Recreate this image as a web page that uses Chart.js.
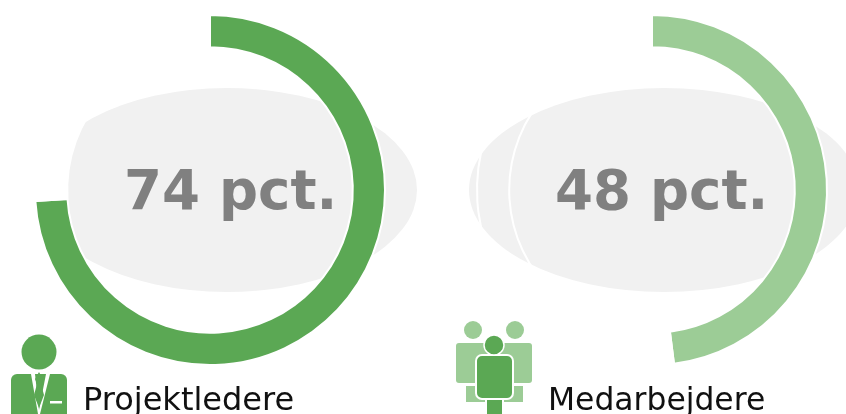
<!DOCTYPE html>
<html>
<head>
<meta charset="utf-8">
<title>Projektledere og medarbejdere</title>
<script src="https://cdn.jsdelivr.net/npm/chart.js@4/dist/chart.umd.min.js"></script>
<style>
  html, body { margin: 0; padding: 0; background: #fff; }
  #page { position: relative; width: 846px; height: 414px; overflow: hidden; font-family: "DejaVu Sans", sans-serif; }
  .blob { position: absolute; background: #f1f1f1; border-radius: 50%; }
  .ring { position: absolute; top: 0; }
  .pct { position: absolute; top: 155px; font-size: 54.6px; line-height: 70px; font-weight: bold; color: #808080; white-space: nowrap; }
  .name { position: absolute; top: 379px; line-height: 40px; color: #111; white-space: nowrap; }
  svg { position: absolute; left: 0; top: 0; }
</style>
</head>
<body>
<div id="page">
  <div class="blob" style="left:37px;top:88px;width:380px;height:204px"></div>
  <div class="blob" style="left:469px;top:88px;width:390px;height:204px"></div>
  <div class="ring" style="left:0;width:420px;height:380px"><canvas id="chartLeft" width="420" height="380"></canvas></div>
  <div class="ring" style="left:458px;width:388px;height:380px"><canvas id="chartRight" width="388" height="380"></canvas></div>
  <div class="pct" id="pctLeft" style="left:124px"></div>
  <div class="pct" id="pctRight" style="left:555px"></div>
  <div class="name" id="nameLeft" style="left:83px;font-size:32px"></div>
  <div class="name" id="nameRight" style="left:548px;font-size:31.4px"></div>
  <svg width="846" height="414">
    <!-- project manager icon -->
    <circle cx="39" cy="352" r="17.5" fill="#5ba854"/>
    <path d="M17 374H61a6 6 0 0 1 6 6V414H11V380a6 6 0 0 1 6-6z" fill="#5ba854"/>
    <path d="M31 374L38 414H40L50 374H46L39 410L35 374z" fill="#fff"/>
    <path d="M39 372L43 379L41 384L44 395L39 408L34 395L37 384L35 379z" fill="#5ba854"/>
    <rect x="50" y="401" width="12" height="2.5" fill="#fff"/>
    <!-- staff icon -->
    <circle cx="473" cy="330" r="9" fill="#9ccc96"/>
    <circle cx="515" cy="330" r="9" fill="#9ccc96"/>
    <rect x="456" y="343" width="76" height="40" rx="3" fill="#9ccc96"/>
    <rect x="466" y="386" width="19" height="16" fill="#9ccc96"/>
    <rect x="504" y="386" width="19" height="16" fill="#9ccc96"/>
    <rect x="476" y="355" width="37" height="44" rx="6" fill="#5ba854" stroke="#fff" stroke-width="2"/>
    <circle cx="494" cy="345" r="10" fill="#5ba854" stroke="#fff" stroke-width="1.5"/>
    <rect x="487" y="400" width="15" height="14" fill="#5ba854"/>
  </svg>
</div>
<script>
'use strict';

var groupNames = ['Projektledere', 'Medarbejdere'];
var shareLeft = [74, 26];
var shareRight = [48, 52];
var pctLabels = ['74 pct.', '48 pct.'];
var sliceLabels = ['Andel', 'Rest'];
var colorsLeft = ['#5ba854', '#ffffff'];
var colorsRight = ['#9ccc96', 'rgba(255,255,255,0)'];

function makeRing(canvasId, values, colors) {
  return new Chart(document.getElementById(canvasId), {
    type: 'doughnut',
    data: {
      labels: sliceLabels,
      datasets: [{
        data: values,
        backgroundColor: colors,
        borderColor: '#ffffff',
        borderWidth: 2
      }]
    },
    options: {
      responsive: false,
      animation: false,
      cutout: '81.6%',
      layout: { padding: 14 },
      plugins: {
        legend: { display: false },
        tooltip: { enabled: false }
      }
    }
  });
}

makeRing('chartLeft', shareLeft, colorsLeft);
makeRing('chartRight', shareRight, colorsRight);

document.getElementById('pctLeft').textContent = pctLabels[0];
document.getElementById('pctRight').textContent = pctLabels[1];
document.getElementById('nameLeft').textContent = groupNames[0];
document.getElementById('nameRight').textContent = groupNames[1];
</script>
</body>
</html>
